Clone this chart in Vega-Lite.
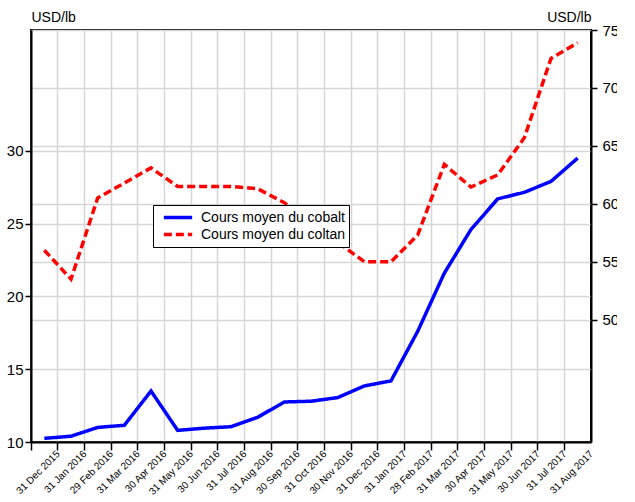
{
  "$schema": "https://vega.github.io/schema/vega-lite/v6.json",
  "autosize": "none",
  "padding": {"left": 31, "top": 30, "right": 26, "bottom": 60},
  "width": 560,
  "height": 412,
  "background": "white",
  "config": {
    "font": "Liberation Sans",
    "view": {"stroke": "black", "strokeWidth": 2},
    "axis": {"labelColor": "black", "titleColor": "black", "domainColor": "black", "tickColor": "black", "gridColor": "#d6d6d6", "gridWidth": 1.5, "domainWidth": 2, "tickWidth": 1.5}
  },
  "data": {
    "values": [
      {"date": "31 Dec 2015", "series": "Cours moyen du cobalt", "value": 10.25},
      {"date": "31 Jan 2016", "series": "Cours moyen du cobalt", "value": 10.4},
      {"date": "29 Feb 2016", "series": "Cours moyen du cobalt", "value": 11.0},
      {"date": "31 Mar 2016", "series": "Cours moyen du cobalt", "value": 11.15},
      {"date": "30 Apr 2016", "series": "Cours moyen du cobalt", "value": 13.5},
      {"date": "31 May 2016", "series": "Cours moyen du cobalt", "value": 10.8},
      {"date": "30 Jun 2016", "series": "Cours moyen du cobalt", "value": 10.95},
      {"date": "31 Jul 2016", "series": "Cours moyen du cobalt", "value": 11.05},
      {"date": "31 Aug 2016", "series": "Cours moyen du cobalt", "value": 11.7},
      {"date": "30 Sep 2016", "series": "Cours moyen du cobalt", "value": 12.75},
      {"date": "31 Oct 2016", "series": "Cours moyen du cobalt", "value": 12.8},
      {"date": "30 Nov 2016", "series": "Cours moyen du cobalt", "value": 13.05},
      {"date": "31 Dec 2016", "series": "Cours moyen du cobalt", "value": 13.85},
      {"date": "31 Jan 2017", "series": "Cours moyen du cobalt", "value": 14.2},
      {"date": "28 Feb 2017", "series": "Cours moyen du cobalt", "value": 17.6},
      {"date": "31 Mar 2017", "series": "Cours moyen du cobalt", "value": 21.6},
      {"date": "30 Apr 2017", "series": "Cours moyen du cobalt", "value": 24.6},
      {"date": "31 May 2017", "series": "Cours moyen du cobalt", "value": 26.7},
      {"date": "30 Jun 2017", "series": "Cours moyen du cobalt", "value": 27.15},
      {"date": "31 Jul 2017", "series": "Cours moyen du cobalt", "value": 27.9},
      {"date": "31 Aug 2017", "series": "Cours moyen du cobalt", "value": 29.5},
      {"date": "31 Dec 2015", "series": "Cours moyen du coltan", "value": 56.0},
      {"date": "31 Jan 2016", "series": "Cours moyen du coltan", "value": 53.5},
      {"date": "29 Feb 2016", "series": "Cours moyen du coltan", "value": 60.5},
      {"date": "31 Mar 2016", "series": "Cours moyen du coltan", "value": 61.8},
      {"date": "30 Apr 2016", "series": "Cours moyen du coltan", "value": 63.1},
      {"date": "31 May 2016", "series": "Cours moyen du coltan", "value": 61.5},
      {"date": "30 Jun 2016", "series": "Cours moyen du coltan", "value": 61.5},
      {"date": "31 Jul 2016", "series": "Cours moyen du coltan", "value": 61.5},
      {"date": "31 Aug 2016", "series": "Cours moyen du coltan", "value": 61.3},
      {"date": "30 Sep 2016", "series": "Cours moyen du coltan", "value": 60.1},
      {"date": "31 Oct 2016", "series": "Cours moyen du coltan", "value": 58.5},
      {"date": "30 Nov 2016", "series": "Cours moyen du coltan", "value": 56.7},
      {"date": "31 Dec 2016", "series": "Cours moyen du coltan", "value": 55.0},
      {"date": "31 Jan 2017", "series": "Cours moyen du coltan", "value": 55.0},
      {"date": "28 Feb 2017", "series": "Cours moyen du coltan", "value": 57.3},
      {"date": "31 Mar 2017", "series": "Cours moyen du coltan", "value": 63.4},
      {"date": "30 Apr 2017", "series": "Cours moyen du coltan", "value": 61.45},
      {"date": "31 May 2017", "series": "Cours moyen du coltan", "value": 62.5},
      {"date": "30 Jun 2017", "series": "Cours moyen du coltan", "value": 65.7},
      {"date": "31 Jul 2017", "series": "Cours moyen du coltan", "value": 72.55},
      {"date": "31 Aug 2017", "series": "Cours moyen du coltan", "value": 73.9}
    ]
  },
  "encoding": {
    "x": {
      "field": "date",
      "type": "ordinal",
      "sort": null,
      "scale": {"type": "band", "paddingInner": 0, "paddingOuter": 0},
      "axis": {"title": null, "bandPosition": 0, "labelOffset": 14, "labelAngle": -45, "labelAlign": "right", "labelBaseline": "middle", "labelFontSize": 10, "labelPadding": 2, "tickSize": 8, "grid": true, "domain": true}
    },
    "color": {
      "field": "series",
      "type": "nominal",
      "scale": {"domain": ["Cours moyen du cobalt", "Cours moyen du coltan"], "range": ["#0000ff", "#ff0000"]},
      "legend": {"title": null, "orient": "none", "legendX": 122, "legendY": 175, "fillColor": "white", "strokeColor": "black", "padding": 4, "labelFontSize": 14, "labelColor": "black", "symbolType": "stroke", "symbolStrokeWidth": 3.5, "symbolSize": 800, "clipHeight": 17, "rowPadding": 0, "symbolOffset": 5, "labelOffset": 7, "labelLimit": 300}
    },
    "strokeDash": {
      "field": "series",
      "type": "nominal",
      "scale": {"domain": ["Cours moyen du cobalt", "Cours moyen du coltan"], "range": [[1, 0], [8, 4]]},
      "legend": {"title": null}
    }
  },
  "layer": [
    {
      "transform": [{"filter": "datum.series === 'Cours moyen du cobalt'"}],
      "mark": {"type": "line", "strokeWidth": 3.5},
      "encoding": {
        "y": {
          "field": "value",
          "type": "quantitative",
          "scale": {"domain": [10, 38.3], "nice": false, "zero": false},
          "axis": {"title": "USD/lb", "titleAngle": 0, "titleAlign": "left", "titleBaseline": "alphabetic", "titleX": 0, "titleY": -9, "titleFontSize": 14, "titleFontWeight": "normal", "values": [10, 15, 20, 25, 30], "labelFontSize": 15, "tickSize": 6, "labelPadding": 2, "grid": true}
        }
      }
    },
    {
      "transform": [{"filter": "datum.series === 'Cours moyen du coltan'"}],
      "mark": {"type": "line", "strokeWidth": 3.5},
      "encoding": {
        "y": {
          "field": "value",
          "type": "quantitative",
          "scale": {"domain": [39.45, 75], "nice": false, "zero": false},
          "axis": {"orient": "right", "title": "USD/lb", "titleAngle": 0, "titleAlign": "right", "titleBaseline": "alphabetic", "titleX": 0, "titleY": -9, "titleFontSize": 14, "titleFontWeight": "normal", "values": [50, 55, 60, 65, 70, 75], "labelFontSize": 15, "tickSize": 6, "labelPadding": 5, "grid": true}
        }
      }
    }
  ],
  "resolve": {"scale": {"y": "independent"}}
}
